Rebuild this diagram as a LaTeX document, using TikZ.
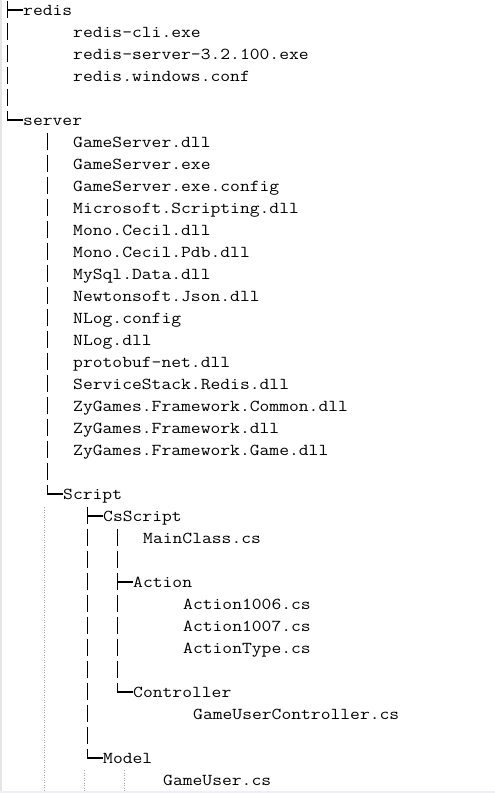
\documentclass[tikz,border=0pt]{standalone}
\usepackage{graphicx}
\newcommand\wtext[1]{\scalebox{1.143}[1]{#1}}
\newcommand\ftext[4]{\node[txt] (#1) at (#2,{15.5+22*#3}) {\wtext{#4}};}
\newcommand\vseg[2]{\draw[bar] (#1,{10+22*#2-9.5}) -- (#1,{10+22*#2+8});}
\newcommand\teeto[3]{\vseg{#1}{#2}\coordinate (t#3) at (#1,{10+22*#2});\draw[bar] (t#3) -- (t#3 -| #3.west);}
\newcommand\elbowto[3]{\coordinate (t#3) at (#1,{10+22*#2});\draw[bar] (#1,{10+22*#2-9.5}) -- (t#3) -- (t#3 -| #3.west);}
\begin{document}
\begin{tikzpicture}[x=1pt,y=-1pt,
  txt/.style={anchor=base west, inner sep=0pt, text=black, font=\ttfamily\fontsize{16.67}{20}\selectfont},
  bar/.style={line width=1.3pt, black, line join=miter},
  guide/.style={black!35, line width=0.8pt, dash pattern=on 0.8pt off 1.7pt}]
\useasboundingbox (0,0) rectangle (495,793);
\fill[black!10] (0,0) rectangle (2.3,793);
\fill[blue!7] (0,790.7) rectangle (495,793);
% texts
\ftext{redis}{23}{0}{redis}
\ftext{r1}{73}{1}{redis-cli.exe}
\ftext{r2}{73}{2}{redis-server-3.2.100.exe}
\ftext{r3}{73}{3}{redis.windows.conf}
\ftext{server}{23}{5}{server}
\ftext{s1}{73}{6}{GameServer.dll}
\ftext{s2}{73}{7}{GameServer.exe}
\ftext{s3}{73}{8}{GameServer.exe.config}
\ftext{s4}{73}{9}{Microsoft.Scripting.dll}
\ftext{s5}{73}{10}{Mono.Cecil.dll}
\ftext{s6}{73}{11}{Mono.Cecil.Pdb.dll}
\ftext{s7}{73}{12}{MySql.Data.dll}
\ftext{s8}{73}{13}{Newtonsoft.Json.dll}
\ftext{s9}{73}{14}{NLog.config}
\ftext{s10}{73}{15}{NLog.dll}
\ftext{s11}{73}{16}{protobuf-net.dll}
\ftext{s12}{73}{17}{ServiceStack.Redis.dll}
\ftext{s13}{73}{18}{ZyGames.Framework.Common.dll}
\ftext{s14}{73}{19}{ZyGames.Framework.dll}
\ftext{s15}{73}{20}{ZyGames.Framework.Game.dll}
\ftext{script}{63}{22}{Script}
\ftext{csscript}{103}{23}{CsScript}
\ftext{mainclass}{143}{24}{MainClass.cs}
\ftext{action}{133}{26}{Action}
\ftext{a1}{183}{27}{Action1006.cs}
\ftext{a2}{183}{28}{Action1007.cs}
\ftext{a3}{183}{29}{ActionType.cs}
\ftext{controller}{133}{31}{Controller}
\ftext{guc}{193}{32}{GameUserController.cs}
\ftext{model}{103}{34}{Model}
\ftext{gameuser}{163}{35}{GameUser.cs}
% level 0
\teeto{7.5}{0}{redis}
\foreach \r in {1,...,4} {\vseg{7.5}{\r}}
\elbowto{7.5}{5}{server}
% level 1
\foreach \r in {6,...,21} {\vseg{47.5}{\r}}
\elbowto{47.5}{22}{script}
% level 2
\teeto{87.5}{23}{csscript}
\foreach \r in {24,...,33} {\vseg{87.5}{\r}}
\elbowto{87.5}{34}{model}
% level 3
\foreach \r in {24,25} {\vseg{117.5}{\r}}
\teeto{117.5}{26}{action}
\foreach \r in {27,...,30} {\vseg{117.5}{\r}}
\elbowto{117.5}{31}{controller}
% guides
\draw[guide] (44.5,507) -- (44.5,790.5);
\draw[guide] (84.5,770) -- (84.5,790.5);
\draw[guide] (124.5,770) -- (124.5,790.5);
\end{tikzpicture}
\end{document}
